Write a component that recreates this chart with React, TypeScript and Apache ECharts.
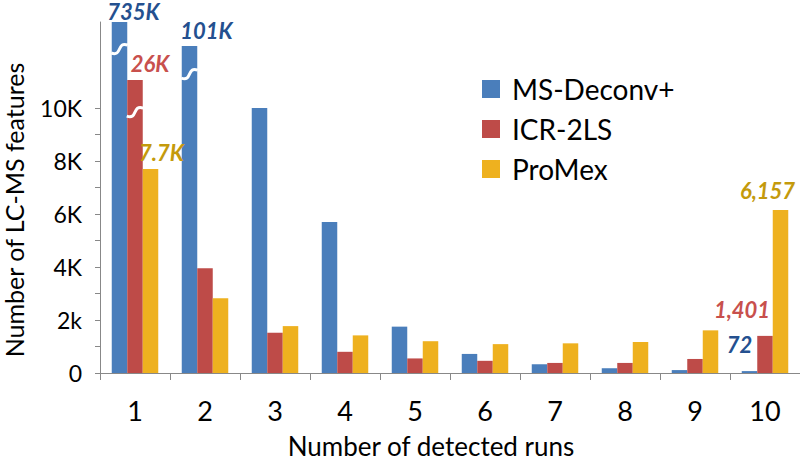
import React, { useEffect, useRef } from "react";
import * as echarts from "echarts";

// ---- data ----
const categories = ["1", "2", "3", "4", "5", "6", "7", "8", "9", "10"];
const seriesNames = ["MS-Deconv+", "ICR-2LS", "ProMex"];
// drawn bar heights (the three tallest bars are truncated and marked with a break)
const msDeconv = [13250, 12340, 10000, 5700, 1750, 720, 330, 180, 110, 72];
const icr2ls = [11060, 3950, 1520, 800, 550, 460, 380, 380, 530, 1401];
const promex = [7700, 2820, 1770, 1420, 1200, 1090, 1120, 1170, 1610, 6157];
const yMax = 13250;
const yLabelValues = [0, 2000, 4000, 6000, 8000, 10000];
const yLabelTexts = ["0", "2k", "4K", "6K", "8K", "10K"];
const yTickValues = [0, 1000, 2000, 3000, 4000, 5000, 6000, 7000, 8000, 9000, 10000];
// value labels: [seriesIndex, categoryIndex, text]
const valueLabels: [number, number, string][] = [
  [0, 0, "735K"],
  [0, 1, "101K"],
  [1, 0, "26K"],
  [2, 0, "7.7K"],
  [0, 9, "72"],
  [1, 9, "1,401"],
  [2, 9, "6,157"],
];
// axis breaks drawn on truncated bars: [categoryIndex, seriesIndex, value at break]
const breaks: [number, number, number][] = [
  [0, 0, 12230],
  [1, 0, 11280],
  [0, 1, 9850],
];

// ---- styles ----
const barColors = ["#4A7EBB", "#BE4B48", "#EEB11F"];
const labelColors = ["#24508F", "#C8504D", "#C49A0C"];
const labelOffsets: Record<string, [number, number]> = {
  "0-0": [14, 5],
  "0-1": [17, 0],
  "1-0": [15, -1],
  "2-0": [11, -1],
  "0-9": [-10, -11],
  "1-9": [-23, -10],
  "2-9": [-13, -3],
};
const FONT = "Lato, 'Open Sans', sans-serif";
const BAR_W = 15.5;

function buildData(values: number[], s: number) {
  return values.map((v, i) => {
    const lab = valueLabels.find((l) => l[0] === s && l[1] === i);
    if (!lab) return v;
    const off = labelOffsets[`${s}-${i}`] || [0, 0];
    return {
      value: v,
      label: {
        show: true,
        position: "top",
        formatter: lab[2],
        offset: off,
        color: labelColors[s],
        fontFamily: FONT,
        fontWeight: "bold",
        fontStyle: "italic",
        fontSize: 22,
        lineHeight: 22,
      },
    };
  });
}

export default function App() {
  const ref = useRef<HTMLDivElement>(null);
  useEffect(() => {
    if (!ref.current) return;
    const chart = echarts.init(ref.current, undefined, { renderer: "svg" });
    const allSeries = [msDeconv, icr2ls, promex];
    const option: any = {
      animation: false,
      backgroundColor: "#ffffff",
      textStyle: { fontFamily: FONT },
      grid: { left: 100, right: 0, top: 22, bottom: 89, containLabel: false },
      legend: {
        data: seriesNames,
        orient: "vertical",
        left: 477,
        top: 70,
        icon: "rect",
        itemWidth: 18,
        itemHeight: 18,
        itemGap: 12,
        textStyle: { fontFamily: FONT, fontSize: 28, color: "#000", padding: [0, 0, 0, 7] },
      },
      xAxis: {
        type: "category",
        data: categories,
        axisLine: { lineStyle: { color: "#888888", width: 1 } },
        axisTick: { show: true, length: 7, lineStyle: { color: "#888888" } },
        axisLabel: { color: "#000", fontFamily: FONT, fontSize: 27, margin: 24 },
      },
      yAxis: {
        type: "value",
        min: 0,
        max: yMax,
        splitLine: { show: false },
        axisLine: { show: true, lineStyle: { color: "#888888", width: 1 } },
        axisTick: {
          show: true,
          length: 5,
          customValues: yTickValues,
          lineStyle: { color: "#888888" },
        },
        axisLabel: {
          customValues: yLabelValues,
          color: "#000",
          fontFamily: FONT,
          fontSize: 23,
          margin: 18,
          formatter: (v: number) => {
            const i = yLabelValues.indexOf(v);
            return i >= 0 ? yLabelTexts[i] : "";
          },
        },
      },
      graphic: [
        {
          type: "text",
          x: 14,
          y: 210,
          rotation: Math.PI / 2,
          style: {
            text: "Number of LC-MS features",
            fontFamily: FONT,
            fontSize: 25,
            fill: "#000",
            align: "center",
            verticalAlign: "middle",
          },
        },
        {
          type: "text",
          x: 431,
          y: 446,
          style: {
            text: "Number of detected runs",
            fontFamily: FONT,
            fontSize: 26,
            fill: "#000",
            align: "center",
            verticalAlign: "middle",
          },
        },
      ],
      series: [
        ...allSeries.map((vals, s) => ({
          name: seriesNames[s],
          type: "bar",
          data: buildData(vals, s),
          barWidth: BAR_W,
          barGap: "0%",
          itemStyle: { color: barColors[s] },
          label: { show: false },
          clip: true,
        })),
        {
          type: "custom",
          silent: true,
          z: 5,
          data: breaks.map((b) => [b[0], b[2], b[1]]),
          encode: { x: 0, y: 1 },
          renderItem: (_params: any, api: any) => {
            const cat = api.value(0);
            const v = api.value(1);
            const s = api.value(2);
            const p = api.coord([cat, v]);
            const cx = p[0] + (s - 1) * BAR_W;
            const xl = cx - BAR_W / 2 - 0.5;
            const xr = cx + BAR_W / 2 + 0.5;
            return {
              type: "bezierCurve",
              shape: {
                x1: xl,
                y1: p[1] + 4,
                x2: xr,
                y2: p[1] - 4,
                cpx1: cx + 3,
                cpy1: p[1] + 8,
                cpx2: cx - 3,
                cpy2: p[1] - 8,
              },
              style: { stroke: "#ffffff", lineWidth: 3, fill: null },
            };
          },
        },
      ],
    };
    chart.setOption(option);
    return () => chart.dispose();
  }, []);
  return (
    <div
      ref={ref}
      style={{ position: "fixed", left: 0, top: 0, width: 800, height: 462, background: "#fff" }}
    />
  );
}
